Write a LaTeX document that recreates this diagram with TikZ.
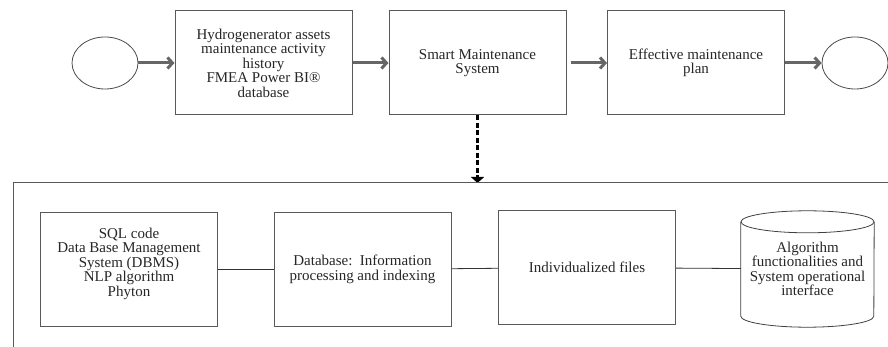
\documentclass[tikz,border=0pt]{standalone}
\usepackage{fontspec}
\setmainfont{Liberation Serif}
\usetikzlibrary{shapes.geometric,arrows.meta}

\begin{document}
\begin{tikzpicture}[x=1pt,y=-1pt,
    every node/.style={font=\fontsize{15}{14.5}\selectfont,align=center,text=black!85},
    box/.style={draw=black!65,line width=1pt,minimum width=177pt,minimum height=104pt,inner sep=0pt},
    term/.style={draw=black!70,line width=0.8pt,ellipse,minimum width=66pt,minimum height=52pt},
    flow/.style={draw=black!60,line width=3pt,-{Straight Barb[length=5pt,width=11pt]}},
    link/.style={draw=black!80,line width=0.8pt},
    cyl/.style={draw=black!75,line width=0.8pt}]
    \useasboundingbox (0,0) rectangle (888,347);
    % main process row
    \node[term] (start) at (105,63) {};
    \node[box] (assets) at (263.5,63) {Hydrogenerator assets\\maintenance activity\\history\\FMEA Power BI\textregistered\\database};
    \node[box] (sms) at (477.5,63) {Smart Maintenance\\System};
    \node[box] (plan) at (696,63) {Effective maintenance\\plan};
    \node[term] (end) at (855,63) {};
    \draw[flow] (start) -- (assets);
    \draw[flow] (assets) -- (sms);
    \draw[flow,shorten <=4pt] (sms) -- (plan);
    \draw[flow] (plan) -- (end);
    %
    \coordinate (frametop) at (477.5,183);
    \draw[line width=3pt,dash pattern=on 5pt off 2.5pt,-{Triangle[length=6pt,width=13pt]}] (sms) -- (frametop);
    \draw[black!65,line width=1pt] (13,347) -- (13,183) -- (888,183);
    % system detail row
    \node[box,minimum height=113pt] (sql) at (129,269.5) {SQL code\\Data Base Management\\System (DBMS)\\NLP algorithm\\Phyton\\\mbox{}};
    \node[box,minimum height=113pt] (dbase) at (362.5,269.5) {Database:\ \ Information\\processing and indexing};
    \node[box,minimum height=113pt] (files) at (587,267.5) {Individualized files};
    \node[minimum width=133pt,minimum height=116pt,inner sep=0pt] (algo) at (807.5,269)
      {Algorithm\\functionalities and\\System operational\\interface};
    \draw[cyl] ([yshift=-11pt]algo.north) ellipse [x radius=66.5pt,y radius=11pt];
    \draw[cyl] ([yshift=-11pt]algo.north west) -- ([yshift=11pt]algo.south west)
      arc[start angle=180,end angle=360,x radius=66.5pt,y radius=11pt]
      -- ([yshift=-11pt]algo.north east);
    \draw[link] (sql) -- (dbase);
    \draw[link] (dbase) -- (files);
    \draw[link] (files) -- (algo);
\end{tikzpicture}
\end{document}
